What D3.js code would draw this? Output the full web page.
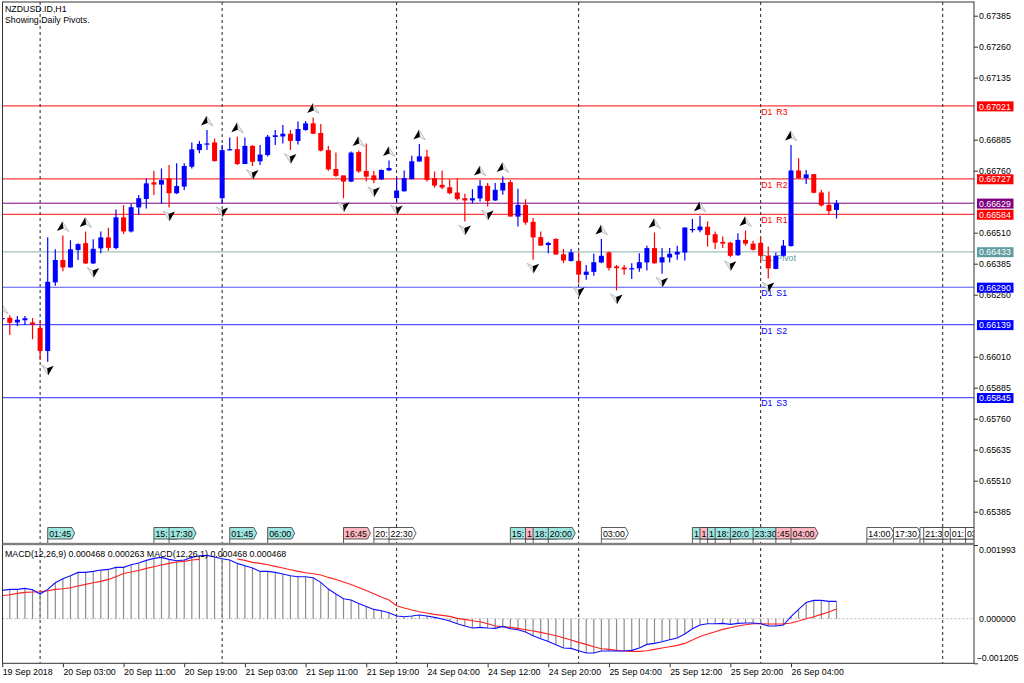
<!DOCTYPE html>
<html>
<head>
<meta charset="utf-8">
<script src="https://cdn.jsdelivr.net/npm/d3@7"></script>
<style>
  html, body { margin: 0; padding: 0; background: #fff; }
  svg { display: block; }
  text { font-family: "Liberation Sans", sans-serif; font-size: 8.8px; fill: #000; }
  .axis path { display: none; }
  .axis line { stroke: #333; }
</style>
</head>
<body>
<svg id="chart" width="1024" height="683"></svg>
<script>
// prices are in points (0.00001), macd values in millionths
const opens = [66163,66167,66148,66157,66148,66126,66033,66310,66400,66370,66440,66468,66386,66447,66491,66448,66572,66515,66612,66646,66713,66704,66729,66669,66696,66776,66843,66865,66874,66649,66842,66847,66787,66860,66798,66823,66896,66898,66909,66880,66924,66951,66912,66843,66767,66741,66716,66835,66759,66741,66725,66761,66650,66677,66726,66797,66817,66730,66703,66693,66672,66649,66640,66648,66699,66640,66680,66714,66575,66622,66554,66492,66460,66485,66423,66396,66396,66340,66352,66390,66431,66374,66370,66362,66366,66390,66448,66390,66410,66422,66430,66520,66520,66534,66504,66473,66470,66419,66481,66466,66469,66417,66364,66417,66456,66761,66730,66746,66672,66622,66602];
const highs = [66167,66177,66174,66174,66166,66155,66492,66443,66499,66480,66467,66515,66484,66515,66530,66604,66622,66626,66662,66729,66760,66769,66783,66790,66790,66874,66880,66924,66890,66864,66894,66897,66894,66864,66864,66904,66924,66944,66924,66958,66960,66975,66948,66860,66833,66741,66837,66841,66870,66760,66765,66801,66734,66761,66820,66868,66844,66757,66761,66726,66730,66667,66685,66723,66710,66710,66737,66723,66687,66645,66569,66515,66474,66488,66444,66444,66431,66380,66425,66485,66434,66380,66380,66387,66427,66457,66511,66448,66448,66457,66531,66565,66578,66555,66515,66495,66474,66508,66519,66478,66492,66454,66430,66481,66864,66810,66763,66747,66683,66676,66642];
const lows = [66162,66097,66134,66138,66080,65997,65990,66296,66355,66370,66400,66384,66384,66427,66437,66443,66505,66511,66581,66608,66662,66628,66612,66666,66682,66769,66830,66843,66796,66628,66841,66783,66787,66779,66783,66817,66864,66870,66843,66866,66921,66907,66837,66760,66736,66649,66714,66752,66716,66709,66722,66759,66636,66676,66726,66796,66716,66691,66685,66665,66640,66555,66629,66636,66616,66638,66663,66575,66535,66542,66401,66457,66427,66421,66387,66394,66306,66320,66336,66387,66358,66277,66340,66323,66353,66358,66384,66344,66390,66401,66398,66511,66512,66454,66444,66448,66411,66417,66457,66438,66394,66325,66363,66414,66454,66727,66706,66669,66616,66583,66567];
const closes = [66166,66147,66159,66165,66139,66033,66312,66400,66370,66443,66464,66386,66445,66491,66449,66572,66515,66613,66649,66709,66704,66722,66669,66698,66779,66846,66868,66870,66799,66843,66847,66787,66860,66796,66825,66897,66903,66909,66880,66928,66951,66909,66841,66765,66739,66716,66833,66757,66736,66722,66763,66771,66680,66730,66798,66818,66723,66700,66692,66669,66646,66640,66649,66699,66638,66683,66711,66575,66622,66551,66491,66458,66469,66422,66398,66431,66341,66353,66391,66417,66368,66367,66362,66367,66391,66448,66387,66411,66425,66433,66531,66525,66535,66501,66470,66466,66417,66481,66466,66441,66417,66366,66417,66458,66761,66730,66745,66671,66620,66597,66629];

const macdValues = [766,793,793,820,784,667,793,973,1081,1162,1252,1252,1279,1315,1333,1388,1388,1460,1505,1577,1631,1658,1604,1568,1586,1658,1703,1712,1667,1622,1586,1496,1433,1370,1279,1279,1252,1207,1162,1135,1135,1108,982,802,667,541,505,414,333,252,216,162,72,54,72,99,72,36,-9,-63,-135,-198,-252,-234,-252,-261,-207,-270,-297,-360,-460,-541,-613,-703,-793,-802,-865,-928,-928,-874,-874,-874,-874,-856,-793,-694,-667,-622,-568,-523,-414,-270,-171,-135,-135,-126,-153,-126,-117,-117,-135,-198,-198,-171,54,252,441,496,496,469,468];
const signalValues = [622,649,685,712,721,730,757,793,811,838,883,928,973,1009,1063,1135,1225,1261,1306,1361,1406,1451,1496,1532,1550,1586,1604,null,null,null,null,1613,1577,1523,1496,1460,1415,1370,1324,1279,1243,1216,1180,1117,1063,991,928,847,766,676,586,505,351,288,234,189,153,117,90,63,9,-18,-54,-81,-135,-198,-216,-234,-261,-297,-333,-369,-414,-460,-514,-577,-640,-694,-757,-811,-829,-856,-874,-883,-883,-865,-829,-793,-757,-721,-667,-577,-478,-414,-351,-288,-243,-198,-162,-135,-135,-144,-144,-144,-117,-63,0,54,117,180,263];

const priceTicks = [67385,67260,67135,66885,66760,66510,66385,66260,66010,65885,65760,65635,65510,65385];
const macdTicks = [1993,0,-1205];
const timeTickBars = [0,8,16,24,32,40,48,56,64,72,80,88,96,104];
const timeTickLabels = ['19 Sep 2018','20 Sep 03:00','20 Sep 11:00','20 Sep 19:00','21 Sep 03:00','21 Sep 11:00','21 Sep 19:00','24 Sep 04:00','24 Sep 12:00','24 Sep 20:00','25 Sep 04:00','25 Sep 12:00','25 Sep 20:00','26 Sep 04:00'];
const daySeparators = [5,29,52,76,100,124];

const pivotNames = ['D1 R3','D1 R2','D1 R1','D1 Pivot','D1 S1','D1 S2','D1 S3'];
const pivotLevels = [67021,66727,66584,66433,66290,66139,65845];
const pivotColors = ['#ff3838','#ff3838','#ff3838','#9dbfba','#5555ff','#5555ff','#5555ff'];
const pivotLabelColors = ['#ff0000','#ff0000','#ff0000','#5f9ea0','#0000ff','#0000ff','#0000ff'];
const boxColors = ['#ff0000','#ff0000','#ff0000','#5f9ea0','#0000ff','#0000ff','#0000ff'];
const bidLevel = 66629;

const fractalUpBars = [0,8,11,27,31,41,47,51,55,63,66,79,86,92,98,104];
const fractalDownBars = [6,12,22,29,33,38,45,49,52,61,64,70,76,81,87,96,101];

// calendar tags along the bottom of the price pane
const tagBars = [6,20,22,30,35,45,49,51,67,69,70,72,79,91,92,93,94,96,99,102,104,114,117.5,121,121.5,124,125,127];
const tagTexts = ['01:45','15:','17:30','01:45','06:00','16:45','20:','22:30','15:','1','18:','20:00','03:00','1','1','1','18:','20:0','23:30',':45','04:00','14:00','17:30','','21:3','0','01:','03'];
const tagKinds = ['c','c','c','c','c','p','w','w','c','p','c','c','w','c','p','c','c','c','c','p','p','w','w','w','w','w','w','w'];
const tagFills = {c: '#9fe6e0', p: '#ffb6c1', w: '#ffffff'};

const paneLeft = 2.5, paneRight = 974, paneTop = 2, mainBottom = 544, macdTop = 545, macdBottom = 663.3;

const svg = d3.select('#chart');
const defs = svg.append('defs');
defs.append('clipPath').attr('id', 'mainClip').append('rect')
  .attr('x', paneLeft).attr('y', paneTop).attr('width', paneRight - paneLeft).attr('height', mainBottom - paneTop);
defs.append('clipPath').attr('id', 'macdClip').append('rect')
  .attr('x', paneLeft).attr('y', macdTop).attr('width', paneRight - paneLeft).attr('height', macdBottom - macdTop);

const x = d3.scaleLinear().domain([0, 124]).range([2.2, 942.7]);
const y = d3.scaleLinear().domain([67385, 65385]).range([15.7, 511.7]);
const yMacd = d3.scaleLinear().domain([1993, -1205]).range([macdTop, macdBottom]);

const mainPane = svg.append('g').attr('clip-path', 'url(#mainClip)');
const macdPane = svg.append('g').attr('clip-path', 'url(#macdClip)');

// pivot lines and their names
mainPane.selectAll('.pivot').data(pivotLevels).enter().append('line')
  .attr('class', 'pivot')
  .attr('x1', paneLeft).attr('x2', paneRight)
  .attr('y1', d => y(d)).attr('y2', d => y(d))
  .attr('stroke', (d, i) => pivotColors[i]).attr('stroke-width', 1.2);

mainPane.selectAll('.pivotName').data(pivotNames).enter().append('text')
  .attr('class', 'pivotName')
  .attr('x', x(100) + 0.5)
  .attr('y', (d, i) => y(pivotLevels[i]) + 8.8)
  .style('fill', (d, i) => pivotLabelColors[i])
  .style('word-spacing', '1.5px')
  .text(d => d);

mainPane.append('line')
  .attr('x1', paneLeft).attr('x2', paneRight)
  .attr('y1', y(bidLevel)).attr('y2', y(bidLevel))
  .attr('stroke', '#800080').attr('stroke-width', 1);

// day separators go through both panes
[mainPane, macdPane].forEach(g => {
  g.selectAll('.sep').data(daySeparators).enter().append('line')
    .attr('class', 'sep')
    .attr('x1', d => x(d)).attr('x2', d => x(d))
    .attr('y1', paneTop).attr('y2', macdBottom)
    .attr('stroke', '#222').attr('stroke-width', 1)
    .attr('stroke-dasharray', '3,3');
});

// candles
const bars = d3.range(opens.length);
const candle = mainPane.selectAll('.candle').data(bars).enter().append('g').attr('class', 'candle');
const candleColor = i => closes[i] >= opens[i] ? '#0000ff' : '#ff0000';

candle.append('line')
  .attr('x1', i => x(i)).attr('x2', i => x(i))
  .attr('y1', i => y(highs[i])).attr('y2', i => y(lows[i]))
  .attr('stroke', candleColor).attr('stroke-width', 1.2);

candle.append('rect')
  .attr('x', i => x(i) - 2.5)
  .attr('width', 5)
  .attr('y', i => y(Math.max(opens[i], closes[i])))
  .attr('height', i => Math.max(1.2, Math.abs(y(opens[i]) - y(closes[i]))))
  .attr('fill', candleColor);

// fractal arrows sit just above highs and below lows
function drawArrow(g, px, py, dir) {
  const a = g.append('g').attr('transform', `translate(${px},${py}) scale(${dir},${dir})`);
  a.append('path').attr('d', 'M-0.5,-5.5L6,4.5L0.5,1.5Z')
    .attr('fill', '#eeeeee').attr('stroke', '#a9b4b4').attr('stroke-width', 0.8);
  a.append('path').attr('d', 'M-0.5,-5.5L-6,4L0.5,1.5Z')
    .attr('fill', '#000');
}
fractalUpBars.forEach(i => drawArrow(mainPane, x(i), y(highs[i]) - 8.5, 1));
fractalDownBars.forEach(i => drawArrow(mainPane, x(i), y(lows[i]) + 8, -1));

// calendar tags, later ones cover the earlier ones
tagBars.forEach((b, i) => {
  const tx = x(b);
  const tag = mainPane.append('g');
  tag.append('path')
    .attr('d', `M${tx},544V527.5H${tx + 24}L${tx + 27},533.2L${tx + 24},539H${tx}`)
    .attr('fill', tagFills[tagKinds[i]])
    .attr('stroke', '#333').attr('stroke-width', 0.8);
  tag.append('text').attr('x', tx + 1.5).attr('y', 536.5).text(tagTexts[i]);
});

// macd pane
macdPane.append('line')
  .attr('x1', paneLeft).attr('x2', paneRight)
  .attr('y1', yMacd(0)).attr('y2', yMacd(0))
  .attr('stroke', '#c8c8c8').attr('stroke-width', 1.2)
  .attr('stroke-dasharray', '2,2');

macdPane.selectAll('.hist').data(macdValues).enter().append('line')
  .attr('class', 'hist')
  .attr('x1', (d, i) => x(i)).attr('x2', (d, i) => x(i))
  .attr('y1', d => yMacd(d)).attr('y2', yMacd(0))
  .attr('stroke', '#8c8c8c').attr('stroke-width', 1.2);

const macdLine = d3.line().defined(d => d !== null).x((d, i) => x(i)).y(d => yMacd(d));
macdPane.append('path').attr('d', macdLine(signalValues))
  .attr('fill', 'none').attr('stroke', '#ff2020').attr('stroke-width', 1.1);
macdPane.append('path').attr('d', macdLine(macdValues))
  .attr('fill', 'none').attr('stroke', '#1010ff').attr('stroke-width', 1.1);

// frame
svg.append('rect').attr('x', paneLeft).attr('y', paneTop).attr('width', paneRight - paneLeft).attr('height', macdBottom - paneTop)
  .attr('fill', 'none').attr('stroke', '#333').attr('stroke-width', 1);
svg.append('rect').attr('x', paneLeft).attr('y', 542.8).attr('width', paneRight - paneLeft).attr('height', 2.4)
  .attr('fill', '#808080');

// axes
const priceAxis = svg.append('g').attr('class', 'axis')
  .attr('transform', `translate(${paneRight},0)`)
  .call(d3.axisRight(y).tickValues(priceTicks).tickSize(4).tickPadding(1).tickFormat(d => d3.format('.5f')(d / 1e5)));

const macdAxis = svg.append('g').attr('class', 'axis')
  .attr('transform', `translate(${paneRight},0)`)
  .call(d3.axisRight(yMacd).tickValues(macdTicks).tickSize(4).tickPadding(1).tickFormat(d => d3.format('.6f')(d / 1e6)));
macdAxis.selectAll('.tick text').attr('dy', d => d === 1993 ? '0.9em' : d === -1205 ? '-0.3em' : '0.32em')
  .attr('x', d => d === -1205 ? 2.5 : 5);
macdAxis.selectAll('.tick').filter(d => d === 0).select('line').remove();

const timeAxis = svg.append('g').attr('class', 'axis')
  .attr('transform', `translate(0,${macdBottom})`)
  .call(d3.axisBottom(x).tickValues(timeTickBars).tickSize(4).tickPadding(1).tickFormat((d, i) => timeTickLabels[i]));
timeAxis.selectAll('.tick text').attr('text-anchor', 'start').attr('x', 0).attr('y', 5).attr('dy', '0.71em');

// price boxes on the right axis
const boxLevels = pivotLevels.concat([bidLevel]);
const boxFill = boxColors.concat(['#800080']);
const box = svg.selectAll('.box').data(boxLevels).enter().append('g').attr('class', 'box');
box.append('rect')
  .attr('x', 977).attr('width', 36.5)
  .attr('y', d => y(d) - 4.6).attr('height', 10)
  .attr('fill', (d, i) => boxFill[i]);
box.append('text')
  .attr('x', 979).attr('y', d => y(d) + 3.6)
  .style('fill', '#fff')
  .text(d => d3.format('.5f')(d / 1e5));

// header texts
svg.append('text').attr('x', 5).attr('y', 12).text('NZDUSD.ID,H1');
svg.append('text').attr('x', 5).attr('y', 23).text('Showing Daily Pivots.');
svg.append('text').attr('x', 5).attr('y', 556.5).text('MACD(12,26,9) 0.000468 0.000263 MACD(12,26,1) 0.000468 0.000468');
</script>
</body>
</html>
